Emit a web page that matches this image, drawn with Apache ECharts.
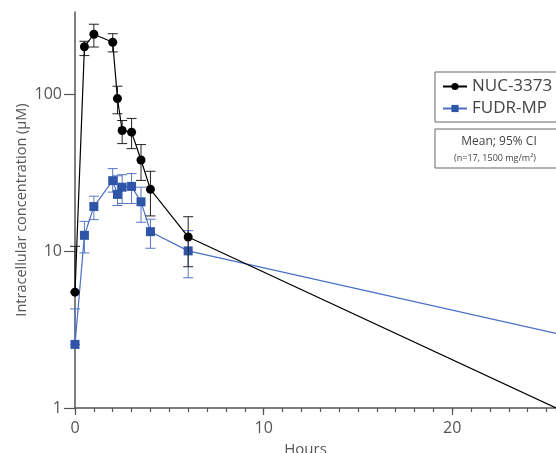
<!DOCTYPE html>
<html>
<head>
<meta charset="utf-8">
<script src="https://cdn.jsdelivr.net/npm/echarts@6/dist/echarts.min.js"></script>
<style>
html, body { margin: 0; padding: 0; background: #fff; }
#main { width: 556px; height: 453px; }
</style>
</head>
<body>
<div id="main"></div>
<script>
// sampling times (hours)
var hours = [0, 0.5, 1, 2, 2.25, 2.5, 3, 3.5, 4, 6];

// NUC-3373 mean and 95% CI (µM)
var nucMean = [5.5, 204, 245, 218, 95, 59.4, 58, 38.5, 25, 12.4];
var nucLow = [5.5, 179, 203, 189, 76, 49, 45.5, 28.5, 16.9, 8.0];
var nucHigh = [10.8, 221, 284, 247, 114, 68.8, 71, 48.3, 32.6, 16.7];

// FUDR-MP mean and 95% CI (µM)
var fudrMean = [2.55, 12.7, 19.4, 28.4, 23.2, 25.8, 26.1, 20.8, 13.4, 10.1];
var fudrLow = [2.55, 9.8, 16.0, 24, 19.7, 20.3, 20.3, 15.4, 10.5, 6.8];
var fudrHigh = [4.3, 15.6, 22.6, 33.9, 30.5, 31, 31.5, 25.8, 16.1, 13.6];

// where the terminal lines leave the plot
var tailHour = 25.5;
var nucTail = 1.0;
var fudrTail = 3.0;

var textColor = '#555';
var axisColor = '#555';
var blue = '#2e55a8';
var blueLine = '#4a6fc4';
var fontFamily = '"Open Sans", sans-serif';

function lineData(mean, tail) {
	var d = [];
	for (var i = 0; i < hours.length; i++) {
		d.push([hours[i], mean[i]]);
	}
	d.push({ value: [tailHour, tail], symbol: 'none' });
	return d;
}

function barData(low, high) {
	var d = [];
	for (var i = 0; i < hours.length; i++) {
		d.push([hours[i], low[i], high[i]]);
	}
	return d;
}

function errorBar(color) {
	return function (params, api) {
		var lo = api.coord([api.value(0), api.value(1)]);
		var hi = api.coord([api.value(0), api.value(2)]);
		var w = 5;
		var style = { stroke: color, lineWidth: 1 };
		return {
			type: 'group',
			children: [
				{ type: 'line', shape: { x1: hi[0], y1: hi[1], x2: lo[0], y2: lo[1] }, style: style },
				{ type: 'line', shape: { x1: hi[0] - w, y1: hi[1], x2: hi[0] + w, y2: hi[1] }, style: style },
				{ type: 'line', shape: { x1: lo[0] - w, y1: lo[1], x2: lo[0] + w, y2: lo[1] }, style: style }
			]
		};
	};
}

var chart = echarts.init(document.getElementById('main'));
chart.setOption({
	animation: false,
	textStyle: { fontFamily: fontFamily },
	grid: [
		{ left: 75, right: 0, top: 12, bottom: 45, outerBoundsMode: 'none', containLabel: false },
		// second grid only carries the decade ticks/labels (reaches up to 1000, off the top)
		{ left: 75, right: 0, top: -62, bottom: 45, outerBoundsMode: 'none', containLabel: false }
	],
	legend: {
		orient: 'vertical',
		left: 435,
		top: 72,
		padding: [6, 30, 5, 7],
		itemGap: 5,
		itemWidth: 24,
		itemHeight: 9,
		borderColor: '#666',
		borderWidth: 1,
		textStyle: { color: '#444', fontSize: 17, fontFamily: fontFamily },
		data: ['NUC-3373', 'FUDR-MP']
	},
	xAxis: [{
		gridIndex: 0,
		type: 'value',
		position: 'bottom',
		min: 0,
		max: tailHour,
		interval: 10,
		name: 'Hours',
		nameLocation: 'middle',
		nameGap: 34,
		nameTextStyle: { color: textColor, fontSize: 15, padding: [0, 20, 0, 0] },
		axisLine: { onZero: false, lineStyle: { color: axisColor, width: 1.5 } },
		axisTick: { length: 7, lineStyle: { color: axisColor, width: 1.2 } },
		axisLabel: { color: textColor, fontSize: 16, margin: 12, showMaxLabel: false },
		splitLine: { show: false }
	}, {
		gridIndex: 0,
		type: 'value',
		position: 'bottom',
		min: 0,
		max: tailHour,
		interval: 1,
		axisLine: { show: false, onZero: false },
		axisTick: { length: 4, lineStyle: { color: axisColor, width: 1.2 } },
		axisLabel: { show: false },
		splitLine: { show: false }
	}, {
		gridIndex: 1,
		type: 'value',
		show: false,
		min: 0,
		max: tailHour
	}],
	yAxis: [{
		gridIndex: 0,
		type: 'log',
		min: 1,
		max: 340,
		name: 'Intracellular concentration (μM)',
		nameLocation: 'middle',
		nameGap: 46,
		nameTextStyle: { color: textColor, fontSize: 14.5 },
		axisLine: { show: true, lineStyle: { color: axisColor, width: 1.5 } },
		axisTick: { show: false },
		axisLabel: { show: false },
		splitLine: { show: false }
	}, {
		gridIndex: 1,
		type: 'log',
		min: 1,
		max: 1000,
		axisLine: { show: false },
		axisTick: { show: true, length: 11, lineStyle: { color: axisColor, width: 1.2 } },
		axisLabel: { color: textColor, fontSize: 16, margin: 13 },
		splitLine: { show: false }
	}],
	graphic: [{
		type: 'rect',
		shape: { x: 435, y: 129, width: 140, height: 39 },
		style: { fill: 'none', stroke: '#666', lineWidth: 1 }
	}, {
		type: 'text',
		x: 499, y: 142,
		style: { text: 'Mean; 95% CI', fill: '#444', fontSize: 12, fontFamily: fontFamily, align: 'center', verticalAlign: 'middle' }
	}, {
		type: 'text',
		x: 495, y: 158,
		style: { text: '(n=17, 1500 mg/m²)', fill: '#444', fontSize: 9, fontFamily: fontFamily, align: 'center', verticalAlign: 'middle' }
	}],
	series: [{
		type: 'custom',
		name: 'FUDR-MP err',
		xAxisIndex: 0,
		yAxisIndex: 0,
		renderItem: errorBar('#5577c4'),
		data: barData(fudrLow, fudrHigh),
		z: 2
	}, {
		type: 'line',
		name: 'FUDR-MP',
		xAxisIndex: 0,
		yAxisIndex: 0,
		symbol: 'rect',
		symbolSize: 9,
		lineStyle: { color: blueLine, width: 1.2 },
		itemStyle: { color: blue },
		data: lineData(fudrMean, fudrTail),
		z: 3
	}, {
		type: 'custom',
		name: 'NUC-3373 err',
		xAxisIndex: 0,
		yAxisIndex: 0,
		renderItem: errorBar('#222'),
		data: barData(nucLow, nucHigh),
		z: 4
	}, {
		type: 'line',
		name: 'NUC-3373',
		xAxisIndex: 0,
		yAxisIndex: 0,
		symbol: 'circle',
		symbolSize: 9,
		lineStyle: { color: '#000', width: 1.2 },
		itemStyle: { color: '#000' },
		data: lineData(nucMean, nucTail),
		z: 5
	}]
});
</script>
</body>
</html>
